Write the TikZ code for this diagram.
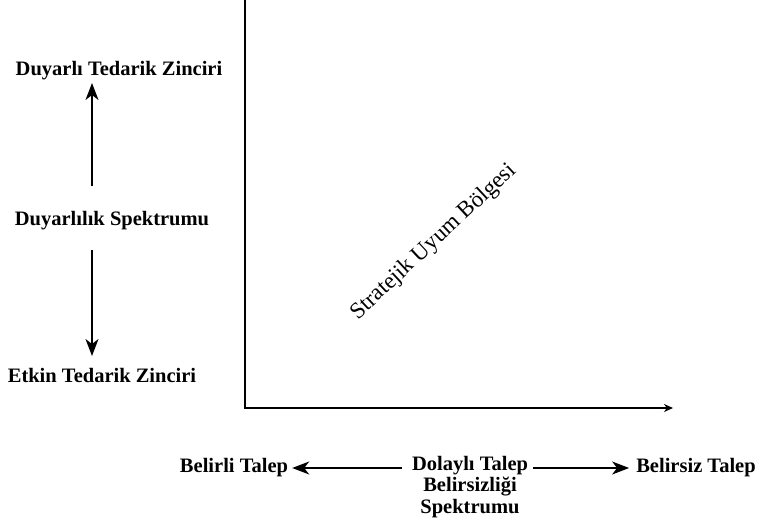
\documentclass[tikz,border=0pt]{standalone}
\usepackage{fontspec}
\setmainfont{Liberation Serif}
\usetikzlibrary{arrows.meta}

\begin{document}
\begin{tikzpicture}[x=1pt,y=-1pt,
  lbl/.style={inner sep=0pt, font=\bfseries\fontsize{20.5}{21.7}\selectfont},
  zone/.style={inner sep=0pt, font=\fontsize{23}{26}\selectfont},
  axisline/.style={line width=1.8pt, -{Stealth[length=9pt,width=8pt]}},
  spec/.style={line width=1.5pt, -{Stealth[length=17pt,width=13pt,inset=5pt]}}]

  % page frame
  \useasboundingbox (0,0) rectangle (761,527);

  % axes of the strategic-fit plane
  \coordinate (ytop) at (245,0);
  \coordinate (origin) at (245,408);
  \coordinate (xend) at (673,408);
  \draw[axisline] (ytop) -- (origin) -- (xend);

  \node[zone, rotate=43] (fit) at (434,242) {Stratejik Uyum Bölgesi};

  % responsiveness spectrum (left)
  \node[lbl] (resp) at (119,71) {Duyarlı Tedarik Zinciri};
  \node[lbl] (rspec) at (112,221) {Duyarlılık Spektrumu};
  \node[lbl] (eff) at (102,375) {Etkin Tedarik Zinciri};

  \coordinate (upA) at (92,186);
  \coordinate (upB) at (92,83);
  \coordinate (dnA) at (92,250);
  \coordinate (dnB) at (92,356);
  \draw[spec] (upA) -- (upB);
  \draw[spec] (dnA) -- (dnB);

  % implied demand uncertainty spectrum (bottom)
  \node[lbl] (cert) at (234,468) {Belirli Talep};
  \node[lbl, align=center] (dspec) at (470,487) {Dolaylı Talep\\Belirsizliği\\Spektrumu};
  \node[lbl] (unc) at (696,468) {Belirsiz Talep};

  \draw[spec, shorten <=10pt, shorten >=4pt] (dspec.west |- cert) -- (cert.east);
  \draw[spec, shorten <=5pt, shorten >=7pt] (dspec.east |- unc) -- (unc.west);
\end{tikzpicture}
\end{document}
